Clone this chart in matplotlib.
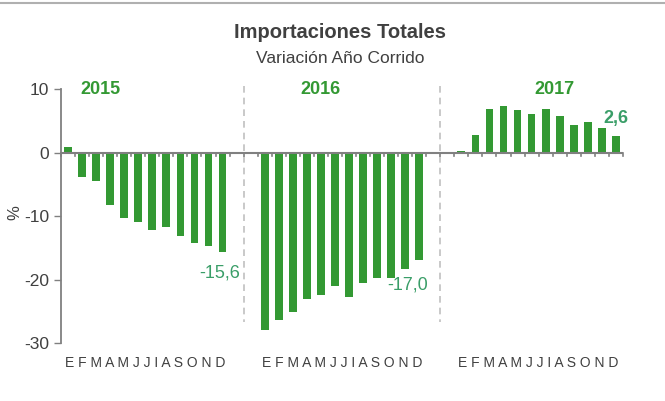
import matplotlib.pyplot as plt
import numpy as np

plt.rcParams['font.family'] = ['Liberation Sans', 'DejaVu Sans']
plt.rcParams['axes.unicode_minus'] = False

months = "E F M A M J J I A S O N D"
years = ['2015', '2016', '2017']
v2015 = [0.9, -3.9, -4.5, -8.2, -10.3, -11.0, -12.2, -11.8, -13.2, -14.2, -14.8, -15.6]
v2016 = [-27.9, -26.3, -25.1, -23.1, -22.4, -21.0, -22.8, -20.6, -19.8, -19.8, -18.3, -17.0]
v2017 = [0.3, 2.8, 6.9, 7.4, 6.7, 6.0, 6.8, 5.8, 4.4, 4.8, 3.9, 2.6]
last_labels = ['-15,6', '-17,0', '2,6']

bar_col = '#339933'
lab_col = '#3a9e68'
gray = '#808080'
txt = '#404040'

# three groups of 12 months, two empty slots between groups
starts = [0, 14, 28]
series = [v2015, v2016, v2017]

fig = plt.figure(figsize=(6.65, 4.01), dpi=100)
ax = fig.add_axes([0.0917, 0.1446, 0.845, 0.6334])

for s, vals in zip(starts, series):
    x = np.arange(s, s + len(vals))
    ax.bar(x, vals, width=0.55, color=bar_col, zorder=2)

ax.set_xlim(-0.5, 39.5)
ax.set_ylim(-30, 10)
ax.set_yticks([10, 0, -10, -20, -30])
ax.tick_params(axis='y', colors=gray, labelcolor=txt, labelsize=12.5, length=5, width=1)
ax.set_xticks([])

for sp in ['top', 'right', 'bottom']:
    ax.spines[sp].set_visible(False)
ax.spines['left'].set_color(gray)
ax.spines['left'].set_linewidth(1.3)

# zero axis with ticks between categories
ax.axhline(0, color=gray, lw=1.5, zorder=3)
for b in np.arange(-0.5, 40, 1.0):
    ax.plot([b, b], [0, -0.6], color=gray, lw=1.2, zorder=3, clip_on=False)

# separators between years
for sep in [12.5, 26.5]:
    ax.plot([sep, sep], [10.5, -26.7], color='#c0c0c0', lw=1.2, ls=(0, (4, 3)),
            zorder=1, clip_on=False)

# year titles
for xp, yr in zip([2.3, 18.0, 34.6], years):
    ax.text(xp, 10.0, yr, color=bar_col, fontsize=13, fontweight='bold',
            ha='center', va='center')

# month letters under each group
for s in starts:
    ax.text(s + 5.5, -33.2, months, color=txt, fontsize=10, ha='center', va='center',
            clip_on=False)

# last values
ax.text(10.8, -19.0, last_labels[0], color=lab_col, fontsize=13, ha='center', va='center')
ax.text(24.2, -20.8, last_labels[1], color=lab_col, fontsize=13, ha='center', va='center')
ax.text(39.0, 5.3, last_labels[2], color=lab_col, fontsize=13, fontweight='bold',
        ha='center', va='center')

fig.text(0.0226, 0.471, '%', color=txt, fontsize=12, rotation=90,
         ha='center', va='center')

fig.text(0.511, 0.918, 'Importaciones Totales', color=txt, fontsize=14.5,
         fontweight='bold', ha='center', va='center')
fig.text(0.511, 0.855, 'Variación Año Corrido', color=txt, fontsize=12.5,
         ha='center', va='center')

fig.add_artist(plt.Line2D([0, 1], [0.992, 0.992], color='#b0b0b0', lw=1.5,
                          transform=fig.transFigure))

fig.savefig('out.png', dpi=100, facecolor='white')
